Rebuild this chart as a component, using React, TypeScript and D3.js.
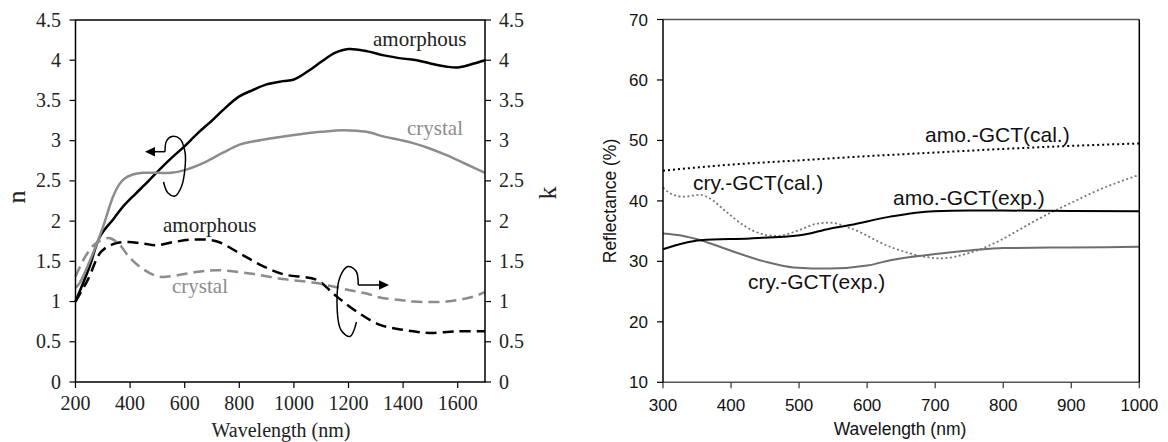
import React from "react";
import * as d3 from "d3";

// left panel: optical constants n, k (wavelength in nm)
const N_AMO_WL = [200, 250, 290, 340, 374, 420, 450, 496, 550, 593, 650, 700, 740, 800, 850, 900, 960, 1000, 1050, 1100, 1150, 1200, 1270, 1330, 1400, 1450, 1500, 1560, 1600, 1650, 1700];
const N_AMO = [1.0, 1.42, 1.81, 2.03, 2.18, 2.34, 2.44, 2.6, 2.78, 2.91, 3.1, 3.25, 3.38, 3.55, 3.63, 3.7, 3.74, 3.76, 3.86, 3.98, 4.09, 4.14, 4.11, 4.06, 4.02, 4.0, 3.96, 3.92, 3.91, 3.95, 4.0];

const N_CRY_WL = [200, 215, 264, 300, 337, 361, 380, 410, 447, 500, 550, 606, 679, 740, 801, 850, 900, 1000, 1100, 1180, 1266, 1330, 1388, 1437, 1500, 1559, 1630, 1700];
const N_CRY = [1.17, 1.23, 1.6, 1.92, 2.3, 2.46, 2.53, 2.58, 2.6, 2.6, 2.6, 2.64, 2.74, 2.85, 2.95, 2.99, 3.02, 3.07, 3.11, 3.13, 3.11, 3.05, 3.01, 2.97, 2.9, 2.82, 2.71, 2.6];

const K_AMO_WL = [200, 245, 294, 343, 392, 450, 496, 560, 630, 716, 801, 875, 960, 1083, 1144, 1180, 1241, 1315, 1380, 1437, 1498, 1596, 1700];
const K_AMO = [1.0, 1.27, 1.62, 1.72, 1.74, 1.72, 1.7, 1.74, 1.77, 1.75, 1.6, 1.46, 1.34, 1.27, 1.1, 1.0, 0.85, 0.71, 0.66, 0.63, 0.61, 0.63, 0.63];

const K_CRY_WL = [200, 236, 273, 322, 358, 395, 445, 505, 578, 650, 716, 838, 960, 1083, 1205, 1266, 1315, 1388, 1437, 1559, 1657, 1700];
const K_CRY = [1.31, 1.56, 1.72, 1.79, 1.72, 1.56, 1.41, 1.31, 1.33, 1.37, 1.39, 1.35, 1.28, 1.23, 1.14, 1.1, 1.05, 1.02, 1.0, 1.0, 1.06, 1.12];

const LEFT_X_TICKS = [200, 400, 600, 800, 1000, 1200, 1400, 1600];
const LEFT_Y_TICKS = [0, 0.5, 1, 1.5, 2, 2.5, 3, 3.5, 4, 4.5];

// right panel: reflectance (%)
const AMO_CAL_WL = [300, 400, 500, 600, 700, 800, 900, 1000];
const AMO_CAL = [45.0, 46.0, 46.7, 47.4, 48.0, 48.6, 49.1, 49.5];

const CRY_CAL_WL = [300, 315, 330, 355, 369, 393, 418, 443, 467, 501, 525, 545, 575, 634, 683, 707, 756, 796, 820, 850, 880, 906, 930, 1000];
const CRY_CAL = [42.2, 41.0, 40.7, 41.0, 40.4, 38.2, 36.0, 34.6, 34.2, 35.2, 36.2, 36.4, 35.5, 32.4, 30.8, 30.5, 31.6, 33.5, 35.0, 36.9, 38.6, 40.0, 41.3, 44.3];

const AMO_EXP_WL = [300, 330, 355, 428, 501, 545, 575, 634, 698, 750, 800, 900, 1000];
const AMO_EXP = [32.0, 33.0, 33.5, 33.8, 34.3, 35.4, 36.0, 37.4, 38.3, 38.4, 38.4, 38.35, 38.3];

const CRY_EXP_WL = [300, 330, 355, 404, 452, 492, 545, 600, 634, 707, 781, 800, 900, 1000];
const CRY_EXP = [34.6, 34.2, 33.5, 31.6, 29.9, 29.0, 28.8, 29.3, 30.2, 31.3, 32.1, 32.2, 32.3, 32.4];

const RIGHT_X_TICKS = [300, 400, 500, 600, 700, 800, 900, 1000];
const RIGHT_Y_TICKS = [10, 20, 30, 40, 50, 60, 70];

const SERIF = "'Liberation Serif', 'Times New Roman', serif";
const SANS = "'Liberation Sans', Arial, sans-serif";
const GRAY = "#8c8c8c";

const zip = (xs: number[], ys: number[]) => xs.map((x, i) => [x, ys[i]] as [number, number]);

export default function App() {
  // left panel scales
  const xL = d3.scaleLinear().domain([200, 1700]).range([75.5, 485]);
  const yL = d3.scaleLinear().domain([0, 4.5]).range([382, 20]);
  const lineL = d3.line<[number, number]>()
    .x(d => xL(d[0]))
    .y(d => yL(d[1]))
    .curve(d3.curveCatmullRom);

  // right panel scales
  const xR = d3.scaleLinear().domain([300, 1000]).range([663, 1139.3]);
  const yR = d3.scaleLinear().domain([10, 70]).range([382.3, 19.5]);
  const lineR = d3.line<[number, number]>()
    .x(d => xR(d[0]))
    .y(d => yR(d[1]))
    .curve(d3.curveMonotoneX);

  const loop = d3.line().curve(d3.curveCatmullRom);

  return (
    <svg width={1168} height={442} style={{ position: "absolute", left: 0, top: 0, background: "#fff" }}>
      {/* ---------- left panel ---------- */}
      <g fontFamily={SERIF} fontSize={20} fill="#222">
        <path d={lineL(zip(N_AMO_WL, N_AMO)) ?? ""} fill="none" stroke="#000" strokeWidth={2.5} />
        <path d={lineL(zip(N_CRY_WL, N_CRY)) ?? ""} fill="none" stroke={GRAY} strokeWidth={2.5} />
        <path d={lineL(zip(K_AMO_WL, K_AMO)) ?? ""} fill="none" stroke="#000" strokeWidth={2.5} strokeDasharray="11,6" />
        <path d={lineL(zip(K_CRY_WL, K_CRY)) ?? ""} fill="none" stroke={GRAY} strokeWidth={2.5} strokeDasharray="11,6" />

        {/* frame */}
        <rect x={xL(200)} y={yL(4.5)} width={xL(1700) - xL(200)} height={yL(0) - yL(4.5)} fill="none" stroke="#000" strokeWidth={1.5} />

        {LEFT_X_TICKS.map(t => (
          <g key={t}>
            <line x1={xL(t)} x2={xL(t)} y1={yL(0)} y2={yL(0) + 6} stroke="#000" strokeWidth={1.2} />
            <text x={xL(t)} y={410} textAnchor="middle">{t}</text>
          </g>
        ))}
        {LEFT_Y_TICKS.map(t => (
          <g key={t}>
            <line x1={xL(200) - 6} x2={xL(200)} y1={yL(t)} y2={yL(t)} stroke="#000" strokeWidth={1.2} />
            <text x={61} y={yL(t) + 6.5} textAnchor="end">{t}</text>
            <line x1={xL(1700)} x2={xL(1700) + 6} y1={yL(t)} y2={yL(t)} stroke="#000" strokeWidth={1.2} />
            <text x={499} y={yL(t) + 6.5} textAnchor="start">{t}</text>
          </g>
        ))}
        <text x={281} y={437} textAnchor="middle">Wavelength (nm)</text>
        <text transform="translate(25,197) rotate(-90)" textAnchor="middle" fontSize={26}>n</text>
        <text transform="translate(556,193) rotate(-90)" textAnchor="middle" fontSize={26}>k</text>

        {/* curve labels */}
        <text x={373} y={46} fontSize={21}>amorphous</text>
        <text x={407} y={135} fontSize={21} fill={GRAY}>crystal</text>
        <text x={163} y={232} fontSize={21}>amorphous</text>
        <text x={172} y={293} fontSize={21} fill={GRAY}>crystal</text>

        {/* rotating arrows */}
        <path
          d={loop([[165, 151.7], [166.5, 141], [172, 136.5], [180, 139], [185, 152], [185, 168], [181.5, 186.5], [175, 196], [168, 193], [163.5, 182]]) ?? ""}
          fill="none" stroke="#000" strokeWidth={1.5}
        />
        <line x1={165} x2={152} y1={151.7} y2={151.7} stroke="#000" strokeWidth={1.5} />
        <path d="M145,151.7 L155,147 L155,156.4 Z" fill="#000" />

        <path
          d={loop([[356.5, 322], [350, 336.5], [341, 330], [337, 303], [340, 277], [348, 266.5], [356, 271], [358.3, 285]]) ?? ""}
          fill="none" stroke="#000" strokeWidth={1.5}
        />
        <line x1={358.3} x2={380} y1={285} y2={285} stroke="#000" strokeWidth={1.5} />
        <path d="M389,285 L379,280.3 L379,289.7 Z" fill="#000" />
      </g>

      {/* ---------- right panel ---------- */}
      <g fontFamily={SANS} fontSize={17} fill="#111">
        <path d={lineR(zip(AMO_CAL_WL, AMO_CAL)) ?? ""} fill="none" stroke="#000" strokeWidth={2} strokeDasharray="2,3" />
        <path d={lineR(zip(CRY_CAL_WL, CRY_CAL)) ?? ""} fill="none" stroke="#777" strokeWidth={1.8} strokeDasharray="2,2.5" />
        <path d={lineR(zip(CRY_EXP_WL, CRY_EXP)) ?? ""} fill="none" stroke="#6e6e6e" strokeWidth={2} />
        <path d={lineR(zip(AMO_EXP_WL, AMO_EXP)) ?? ""} fill="none" stroke="#000" strokeWidth={2} />

        <line x1={xR(300)} x2={xR(1000)} y1={yR(70)} y2={yR(70)} stroke="#555" strokeWidth={1.5} />
        <line x1={xR(300)} x2={xR(1000)} y1={yR(10)} y2={yR(10)} stroke="#555" strokeWidth={1.5} />
        <line x1={xR(300)} x2={xR(300)} y1={yR(70)} y2={yR(10)} stroke="#000" strokeWidth={1.5} />
        <line x1={xR(1000)} x2={xR(1000)} y1={yR(70)} y2={yR(10)} stroke="#000" strokeWidth={1.5} />

        {RIGHT_X_TICKS.map(t => (
          <g key={t}>
            <line x1={xR(t)} x2={xR(t)} y1={yR(10)} y2={yR(10) + 6} stroke="#333" strokeWidth={1.2} />
            <text x={xR(t)} y={411} textAnchor="middle">{t}</text>
          </g>
        ))}
        {RIGHT_Y_TICKS.map(t => (
          <g key={t}>
            <line x1={xR(300) - 6} x2={xR(300)} y1={yR(t)} y2={yR(t)} stroke="#000" strokeWidth={1.2} />
            <text x={648} y={yR(t) + 6} textAnchor="end">{t}</text>
          </g>
        ))}
        <text x={900} y={435} textAnchor="middle" fontSize={17.5}>Wavelength (nm)</text>
        <text transform="translate(616,201) rotate(-90)" textAnchor="middle" fontSize={17.5}>Reflectance (%)</text>

        <text x={925} y={142} fontSize={21}>amo.-GCT(cal.)</text>
        <text x={693} y={190} fontSize={21}>cry.-GCT(cal.)</text>
        <text x={893} y={205} fontSize={21}>amo.-GCT(exp.)</text>
        <text x={748} y={289} fontSize={21}>cry.-GCT(exp.)</text>
      </g>
    </svg>
  );
}
